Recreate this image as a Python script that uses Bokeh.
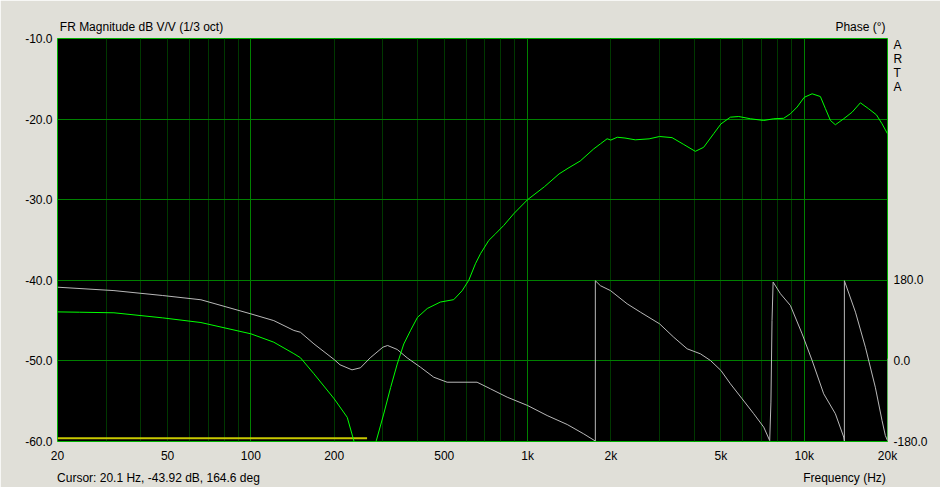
import json
from bokeh.plotting import figure
from bokeh.models import (Range1d, LinearAxis, LinearScale, FixedTicker, PrintfTickFormatter,
                          CustomJSTickFormatter, Grid)
from bokeh.embed import file_html
from bokeh.resources import INLINE

# ---------------- data ----------------
mag_freq = [20, 24, 32, 48, 66, 100, 121, 143, 151, 169, 200, 223, 236, 250, 270,
            284, 302, 320, 338, 357, 378, 400, 434, 484, 541, 580, 613, 648, 676,
            724, 766, 820, 891, 1000, 1150, 1300, 1400, 1550, 1734, 1834, 1939,
            2000, 2110, 2250, 2450, 2750, 3000, 3330, 3670, 4040, 4330, 4710, 5000,
            5410, 5800, 6390, 7140, 7760, 8430, 8915, 9430, 10000, 10680, 11440,
            11930, 12440, 12960, 13890, 14900, 15960, 17100, 18240, 19110, 20000]
mag_db = [-43.92, -43.96, -44.03, -44.66, -45.24, -46.64, -47.68, -49.1, -49.6, -51.6,
          -54.7, -57.0, -60.0, -63.0, -63.0,
          -59.9, -56.6, -53.3, -50.4, -47.9, -46.2, -44.6, -43.5, -42.7, -42.4,
          -41.3, -40.0, -37.95, -36.7, -35.06, -34.23, -33.2, -31.75, -30.0, -28.4,
          -26.8, -26.1, -25.2, -23.7, -23.07, -22.44, -22.6, -22.25, -22.35, -22.57,
          -22.45, -22.16, -22.3, -23.15, -24.0, -23.5, -21.8, -20.6, -19.76, -19.68,
          -19.96, -20.17, -19.96, -19.9, -19.34, -18.5, -17.3, -16.86, -17.2, -18.7,
          -20.17, -20.7, -19.96, -19.14, -17.98, -18.72, -19.47, -20.58, -21.82]

ph_freq = [20, 32, 48, 66, 100, 121, 143, 151, 169, 200, 210, 232, 249, 270, 300, 312,
           338, 367, 410, 458, 512, 657, 734, 844, 1000, 1177, 1391, 1596, 1758, 1758,
           1834, 1994, 2291, 2559, 3000, 3375, 3774, 4215, 4582, 5000, 5410, 5965,
           6570, 7140, 7504, 7580, 7650, 7720, 8205, 8915, 9826, 10680, 11760, 12960,
           13890, 13970, 13970, 15320, 16640, 18070, 19110, 19640, 20000, 20000]
ph_deg = [164.6, 157, 146, 136.5, 105, 90, 68, 64, 38, 3, -8.7, -20, -15.4, 6.9, 30.6,
          34.4, 25.5, 6.9, -14, -36.4, -47.6, -47.6, -62.3, -81, -99.6, -122, -142,
          -163, -179, 179, 168, 157, 127.5, 108.8, 82.8, 52.9, 27, 15.8, 0.9, -21.4,
          -51.1, -84.6, -118, -148, -178, -92, 90, 176, 150, 123.7, 60.5, 0.9, -73.5,
          -118, -170, -179, 179, 108.8, 30.6, -58.7, -133, -166.6, -178, 5]

ref_freq = [20, 263]
ref_db = [-59.6, -59.6]

x_ticks = [20, 50, 100, 200, 500, 1000, 2000, 5000, 10000, 20000]
y_ticks = [-60, -50, -40, -30, -20, -10]
ph_ticks = [-180, 0, 180]
ph_labels = ["-180.0", "0.0", "180.0"]

title_text = "FR Magnitude dB V/V (1/3 oct)"
phase_text = "Phase (\u00b0)"
brand_letters = ["A", "R", "T", "A"]
cursor_text = "Cursor: 20.1 Hz, -43.92 dB, 164.6 deg"
freq_text = "Frequency (Hz)"

# ---------------- style / layout ----------------
BG = "#E0DFD8"
FONT = "Liberation Sans"
FS = "12px"
FRAME_W, FRAME_H = 830, 403
PH_LO, PH_HI = -180, 720

p = figure(width=940, height=487, x_axis_type="log",
           x_range=Range1d(20, 20000), y_range=Range1d(-60, -10),
           output_backend="svg", toolbar_location=None,
           min_border_left=57, min_border_right=53,
           min_border_top=38, min_border_bottom=46)
p.title.visible = False
p.background_fill_color = "black"
p.border_fill_color = BG
p.outline_line_color = "#00B000"
p.outline_line_width = 1

p.extra_y_ranges = {"phase": Range1d(PH_LO, PH_HI)}
p.extra_y_scales = {"phase": LinearScale()}
p.extra_x_ranges = {"px": Range1d(0, FRAME_W)}
p.extra_x_scales = {"px": LinearScale()}

# grids
minor_x = [m * 10 ** e for e in range(1, 5) for m in range(2, 10) if 20 <= m * 10 ** e <= 20000]
decade_x = [100, 1000, 10000]
p.xgrid.ticker = FixedTicker(ticks=minor_x)
p.xgrid.grid_line_color = "#003800"
p.add_layout(Grid(dimension=0, ticker=FixedTicker(ticks=decade_x),
                  grid_line_color="#008000", grid_line_width=1))
p.ygrid.ticker = FixedTicker(ticks=[-50, -40, -30, -20])
p.ygrid.grid_line_color = "#008000"


def style_axis(ax, standoff):
    ax.axis_line_color = None
    ax.major_tick_line_color = None
    ax.minor_tick_line_color = None
    ax.major_tick_in = 0
    ax.major_tick_out = 0
    ax.major_label_standoff = standoff
    ax.major_label_text_font = FONT
    ax.major_label_text_font_size = FS
    ax.major_label_text_color = "black"


def lookup_formatter(ticks, labels):
    code = ("const t = %s, l = %s;"
            "for (let i = 0; i < t.length; i++) { if (Math.abs(tick - t[i]) < 1e-6) return l[i]; }"
            "return '';") % (json.dumps(ticks), json.dumps(labels))
    return CustomJSTickFormatter(code=code)


# bottom frequency axis
xa = p.xaxis[0]
xa.ticker = FixedTicker(ticks=x_ticks)
xa.formatter = CustomJSTickFormatter(
    code="return tick >= 1000 ? (tick/1000).toFixed(0) + 'k' : tick.toFixed(0);")
style_axis(xa, 7)

# left magnitude axis
ya = p.yaxis[0]
ya.ticker = FixedTicker(ticks=y_ticks)
ya.formatter = PrintfTickFormatter(format="%.1f")
style_axis(ya, 5)

# right phase axis (also carries the stacked brand letters near the top)
def phase_at(px_from_top):
    return PH_HI - px_from_top * (PH_HI - PH_LO) / FRAME_H

brand_pos = [phase_at(6 + i * 14) for i in range(len(brand_letters))]
r_ticks = ph_ticks + brand_pos
r_labels = ph_labels + brand_letters
ra = LinearAxis(y_range_name="phase", ticker=FixedTicker(ticks=r_ticks),
                formatter=lookup_formatter(r_ticks, r_labels))
style_axis(ra, 6)
p.add_layout(ra, "right")

# top caption row
top_pos = [84, 803]
top_axis = LinearAxis(x_range_name="px", ticker=FixedTicker(ticks=top_pos),
                      formatter=lookup_formatter(top_pos, [title_text, phase_text]))
style_axis(top_axis, 5)
p.add_layout(top_axis, "above")

# bottom status row
bot_pos = [101, 787]
bot_axis = LinearAxis(x_range_name="px", ticker=FixedTicker(ticks=bot_pos),
                      formatter=lookup_formatter(bot_pos, [cursor_text, freq_text]))
style_axis(bot_axis, 5)
p.add_layout(bot_axis, "below")

# curves
p.line(ref_freq, ref_db, line_color="#C8C800", line_width=2)
p.line(ph_freq, ph_deg, y_range_name="phase", line_color="#B8B8B8", line_width=1)
p.line(mag_freq, mag_db, line_color="#00FF00", line_width=1)

open("out.html", "w").write(file_html(p, INLINE))
